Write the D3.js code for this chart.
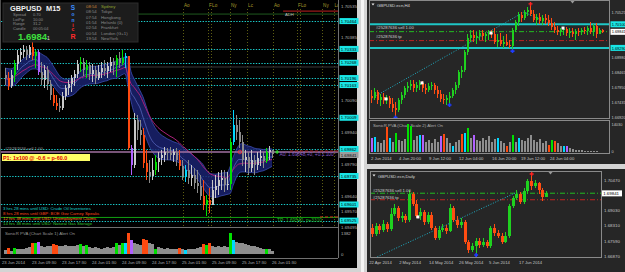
<!DOCTYPE html>
<html><head><meta charset="utf-8">
<script src="https://cdn.jsdelivr.net/npm/d3@7"></script>
<style>
html,body{margin:0;padding:0;background:#d6d6d6;overflow:hidden;}
svg{display:block;}
text{font-family:"Liberation Sans",Arial,sans-serif;}
</style></head><body>
<svg id="c" width="625" height="272"></svg>
<script>
// ---------------- DATA: GBPUSD M15 (left window) ----------------
const m15Open0 = 1.70210;
const m15High = [1.70243,1.70224,1.70233,1.70280,1.70328,1.70337,1.70351,1.70346,1.70351,1.70365,
1.70328,1.70328,1.70271,1.70257,1.70252,1.70186,1.70149,1.70116,1.70101,1.70130,
1.70163,1.70186,1.70210,1.70233,1.70280,1.70295,1.70290,1.70280,1.70271,1.70262,
1.70252,1.70257,1.70271,1.70280,1.70271,1.70295,1.70290,1.70304,1.70318,1.70328,
1.70313,1.70299,1.69880,1.70031,1.70021,1.69998,1.69960,1.69857,1.69809,1.69819,
1.69833,1.69847,1.69857,1.69871,1.69866,1.69871,1.69861,1.69866,1.69857,1.69809,
1.69786,1.69809,1.69786,1.69772,1.69762,1.69739,1.69715,1.69645,1.69678,1.69715,
1.69739,1.69753,1.69762,1.69762,1.69753,1.69913,1.70045,1.70021,1.69998,1.69927,
1.69857,1.69847,1.69857,1.69833,1.69847,1.69857,1.69847,1.69866,1.69875,1.69857];
const m15Low = [1.70163,1.70139,1.70149,1.70177,1.70233,1.70271,1.70290,1.70280,1.70290,1.70280,
1.70243,1.70210,1.70163,1.70149,1.70139,1.70092,1.70064,1.70045,1.70035,1.70045,
1.70092,1.70116,1.70130,1.70158,1.70196,1.70224,1.70205,1.70196,1.70186,1.70177,
1.70167,1.70186,1.70196,1.70205,1.70196,1.70224,1.70210,1.70200,1.70243,1.70257,
1.70243,1.69857,1.69739,1.69772,1.69904,1.69880,1.69772,1.69715,1.69701,1.69715,
1.69739,1.69753,1.69786,1.69800,1.69809,1.69809,1.69800,1.69781,1.69762,1.69715,
1.69706,1.69696,1.69687,1.69673,1.69654,1.69621,1.69574,1.69546,1.69560,1.69597,
1.69630,1.69645,1.69668,1.69659,1.69668,1.69668,1.69880,1.69904,1.69866,1.69781,
1.69753,1.69739,1.69753,1.69739,1.69762,1.69781,1.69772,1.69795,1.69809,1.69819];
const m15Close = [1.70196,1.70158,1.70210,1.70262,1.70304,1.70318,1.70328,1.70304,1.70342,1.70299,
1.70318,1.70224,1.70186,1.70233,1.70167,1.70116,1.70078,1.70064,1.70054,1.70111,
1.70149,1.70167,1.70196,1.70214,1.70262,1.70271,1.70233,1.70257,1.70214,1.70233,
1.70196,1.70224,1.70243,1.70229,1.70252,1.70271,1.70257,1.70290,1.70266,1.70290,
1.70299,1.69866,1.69786,1.69998,1.69951,1.69927,1.69795,1.69753,1.69734,1.69762,
1.69800,1.69819,1.69833,1.69847,1.69842,1.69833,1.69847,1.69809,1.69781,1.69734,
1.69762,1.69725,1.69739,1.69701,1.69687,1.69640,1.69597,1.69621,1.69597,1.69668,
1.69687,1.69715,1.69725,1.69692,1.69696,1.69894,1.69974,1.69941,1.69894,1.69809,
1.69824,1.69772,1.69809,1.69786,1.69819,1.69828,1.69805,1.69847,1.69857,1.69838];
const m15Vol = [250,400,200,420,350,300,350,400,450,700,
750,800,500,450,500,550,650,600,550,500,
600,550,500,550,600,650,500,600,450,400,
450,400,350,400,450,400,450,750,600,700,
720,1382,900,700,650,600,1000,950,700,650,
300,450,400,350,400,350,300,350,400,300,
280,350,300,350,400,450,650,600,700,500,
450,500,450,500,450,1382,900,800,750,700,
650,600,550,500,450,400,350,350,300,200];
// PVA colour code per bar: 0 normal, g/r climax bull/bear, c/m rising bull/bear
const m15Pva = ("0r0g00000r"+"gm0000rr00"+"00000g0g00"+"0000000g0g"+"crm000rr00"+
                "g0000000r0"+"c00000rgr0"+"00000gc000"+"0000000g00").split("");
const m15TimeIdx = [0,10,20,30,40,50,60,70,80,90];
const m15TimeLbl = ["23 Jun 2014","23 Jun 09:30","23 Jun 17:30","24 Jun 01:30","24 Jun 09:30",
                    "24 Jun 17:30","25 Jun 01:30","25 Jun 09:30","25 Jun 17:30","26 Jun 01:30"];
const m15PriceTicks = [1.70535,1.70460,1.70385,1.70310,1.70240,1.70165,1.70090,1.70015,1.69940,
                       1.69865,1.69790,1.69715,1.69640,1.69570,1.69495];
const m15Levels = [1.70464,1.70333,1.70268,1.70196,1.70163,1.70009,1.69862,1.69735,1.69601,1.69525];
const sessions = [[59.3,"Ao"],[67.7,"F"],[68.7,"Lo"],[75,"Ny"],[80.7,"Lc"],[89.3,"Ao"],[97.3,"F"],[98.3,"Lo"],[105.7,"Ny"],[109.5,"Lo"]];
const sellPrice = 1.69848, tpPrice = 1.69540, bidPrice = 1.69841;
const m15VolMax = 1382;
const newsRows = [["3 hrs 28 mins until USD: Crude Oil Inventories","#19d3d3"],
                  ["8 hrs 28 mins until GBP: BOE Gov Carney Speaks","#ff4a1a"],
                  ["12 hrs 38 mins until USD: Unemployment Claims","#ff7a1a"],
                  ["14 hrs 38 mins until USD: Natural Gas Storage","#33c433"]];
const sessTimes = ["08:54","08:54","07:54","01:54","02:54","00:54","19:54"];
const sessNames = ["Sydney","Tokyo","Hongkong","Helsinki (0)","Frankfurt","London (G+1)","NewYork"];
const infoRows = [["Spread","0.70"],["LotPip","10.00"],["Range","31.2"],["Candle","00:05:04"]];

// ---------------- DATA: GBPUSD.ecn H4 ----------------
const h4Open0 = 1.6764;
const h4High = [1.6785,1.6791,1.6785,1.6771,1.6774,1.6767,1.6764,1.6757,1.6743,1.6757,
1.6778,1.6798,1.6812,1.6819,1.6819,1.6812,1.6819,1.6815,1.6805,1.6809,
1.6812,1.6809,1.6798,1.6785,1.6771,1.6767,1.6778,1.6791,1.6812,1.6853,
1.6867,1.6922,1.6977,1.6990,1.6990,1.6984,1.6990,1.6990,1.6984,1.6990,
1.6990,1.6997,1.6977,1.6980,1.6970,1.6977,1.6956,1.6997,1.7025,1.7052,
1.7052,1.7059,1.7069,1.7076,1.7059,1.7045,1.7049,1.7042,1.7045,1.7042,
1.7032,1.7018,1.7004,1.6997,1.7001,1.7001,1.6997,1.6997,1.6994,1.6997,
1.6997,1.7001,1.7004,1.7018,1.7011,1.7014,1.6997,1.6994];
const h4Low = [1.6740,1.6750,1.6737,1.6730,1.6737,1.6737,1.6723,1.6709,1.6695,1.6709,
1.6737,1.6757,1.6778,1.6785,1.6778,1.6778,1.6785,1.6778,1.6771,1.6778,
1.6785,1.6771,1.6757,1.6743,1.6737,1.6733,1.6737,1.6757,1.6771,1.6791,
1.6826,1.6846,1.6905,1.6949,1.6949,1.6942,1.6956,1.6956,1.6949,1.6956,
1.6963,1.6942,1.6932,1.6936,1.6929,1.6936,1.6929,1.6922,1.6984,1.7004,
1.7018,1.7025,1.7038,1.7038,1.7018,1.7008,1.7011,1.7008,1.7011,1.7004,
1.6990,1.6980,1.6973,1.6970,1.6973,1.6970,1.6963,1.6966,1.6956,1.6970,
1.6973,1.6977,1.6973,1.6977,1.6970,1.6963,1.6977,1.6980];
const h4Close = [1.6757,1.6778,1.6750,1.6760,1.6750,1.6757,1.6737,1.6723,1.6716,1.6750,
1.6767,1.6791,1.6798,1.6805,1.6791,1.6802,1.6809,1.6791,1.6785,1.6798,
1.6802,1.6785,1.6771,1.6754,1.6750,1.6757,1.6764,1.6785,1.6802,1.6846,
1.6853,1.6915,1.6963,1.6973,1.6963,1.6970,1.6980,1.6970,1.6977,1.6980,
1.6977,1.6949,1.6956,1.6942,1.6949,1.6939,1.6936,1.6990,1.7018,1.7042,
1.7032,1.7052,1.7059,1.7045,1.7025,1.7035,1.7021,1.7032,1.7025,1.7014,
1.7001,1.6990,1.6984,1.6990,1.6994,1.6980,1.6984,1.6977,1.6987,1.6984,
1.6990,1.6987,1.6997,1.6984,1.7004,1.6977,1.6990,1.6984];
const h4Vol = [7000,7200,5000,4500,6000,12000,7000,5000,9000,6000,
5500,6500,13500,12500,6000,7500,8000,8000,5000,6000,
4500,6500,5000,7500,8500,7000,4500,3000,5000,6000,
8500,9000,11500,7000,8000,6000,5500,7000,6000,7500,
5000,6500,7000,5500,4500,3000,5000,8000,5000,7000,
6000,5500,7000,8000,6000,5000,6500,4500,5500,3500,
6000,5500,4500,3000,3000,3000,2000,1500,1200,1000,
800,600,500,400,300,300,200,100];
const h4Pva = ("mc000rc0g0"+"00gg00cm00"+"000mr00c00"+"rcg0m00000"+"00c00r0g0c"+
               "000000000r"+"gr00cm0000"+"00000000").split("");
const h4VolMax = 14030;
const h4PriceTicks = [1.66920,1.67435,1.67950,1.68465,1.68980,1.69495,1.70010,1.70525];
const h4Cyan = [1.70100,1.69290];
const h4TimeIdx = [0.3,9.7,19.7,29.7,40.7,50.3,60];
const h4TimeLbl = ["2 Jun 2014","4 Jun 20:00","9 Jun 12:00","12 Jun 04:00","16 Jun 20:00","19 Jun 12:00","24 Jun 04:00"];
const h4Trend = [[0.33,1.6757],[51,1.7052],[61.7,1.7001]];
const h4White = [[5,1.6754],[17,1.6809],[40,1.6980],[64,1.6997]];
const h4Blue = [[8,1.6690],[26,1.6733],[47,1.6918]];
const h4Red = [[53,1.7080]];

// ---------------- DATA: GBPUSD.ecn Daily ----------------
const dOpen0 = 1.6821;
const dHigh = [1.6840,1.6844,1.6840,1.6859,1.6849,1.6915,1.6934,1.6925,1.6896,1.6887,
1.7000,1.6990,1.6953,1.6915,1.6906,1.6896,1.6896,1.6830,1.6830,1.6840,
1.6835,1.6934,1.6925,1.6877,1.6868,1.6859,1.6764,1.6750,1.6774,1.6774,
1.6774,1.6764,1.6830,1.6840,1.6812,1.6797,1.6802,1.6934,1.6972,1.7000,
1.6990,1.7009,1.7052,1.7066,1.7047,1.7038,1.7009,1.6995];
const dLow = [1.6779,1.6783,1.6793,1.6802,1.6802,1.6807,1.6877,1.6854,1.6849,1.6844,
1.6849,1.6925,1.6868,1.6859,1.6835,1.6840,1.6812,1.6764,1.6764,1.6802,
1.6793,1.6802,1.6849,1.6821,1.6821,1.6746,1.6703,1.6708,1.6703,1.6727,
1.6731,1.6727,1.6727,1.6783,1.6774,1.6746,1.6750,1.6774,1.6915,1.6953,
1.6934,1.6934,1.6981,1.7000,1.7009,1.6981,1.6948,1.6972];
const dClose = [1.6793,1.6830,1.6812,1.6840,1.6816,1.6887,1.6915,1.6868,1.6877,1.6859,
1.6981,1.6934,1.6877,1.6896,1.6849,1.6882,1.6821,1.6774,1.6812,1.6821,
1.6807,1.6915,1.6859,1.6835,1.6849,1.6755,1.6717,1.6736,1.6760,1.6741,
1.6755,1.6736,1.6821,1.6797,1.6783,1.6755,1.6783,1.6925,1.6962,1.6981,
1.6943,1.6995,1.7042,1.7019,1.7033,1.7000,1.6967,1.6986];
const dPriceTicks = [1.66870,1.67590,1.68310,1.69030,1.69750,1.70470];
const dTimeIdx = [-0.5,7.6,15.7,23.8,31.9,40];
const dTimeLbl = ["22 Apr 2014","2 May 2014","14 May 2014","26 May 2014","5 Jun 2014","17 Jun 2014"];
const dTrend = [[0.8,1.6680],[39.2,1.6990]];
const dWhite = [[12.4,1.6873]];
const dBlue = [[28,1.6694]];
const dRed = [[43,1.7075]];

// ---------------- HELPERS ----------------
const svg = d3.select("#c");
const f5 = d3.format(".5f");
const pvaCol = {g:"#00e000", r:"#ff4a10", c:"#00d8ff", m:"#b060ff"};
function ohlc(open0, hi, lo, cl){
  return cl.map((c,i)=>{const o = i===0?open0:cl[i-1];
    return {i, o, c, h:Math.max(hi[i],o,c), l:Math.min(lo[i],o,c)};});
}
function ema(arr, n){ const a = 2/(n+1); let e = arr[0]; return arr.map(v => (e = e + a*(v-e))); }
function txt(g, x, y, s, o={}){
  const t = g.append("text").attr("x",x).attr("y",y).text(s)
    .attr("font-size", o.size||4.4).attr("fill", o.fill||"#a8a8a8");
  if(o.weight) t.attr("font-weight", o.weight);
  if(o.family) t.attr("font-family", o.family);
  if(o.anchor) t.attr("text-anchor", o.anchor);
  return t;
}
function hline(g, x1, x2, y, col, w, dash){
  const l = g.append("line").attr("x1",x1).attr("x2",x2).attr("y1",y).attr("y2",y)
    .attr("stroke",col).attr("stroke-width",w||1);
  if(dash) l.attr("stroke-dasharray",dash);
  return l;
}
function candles(g, data, x, y, bw, colFn){
  const s = g.append("g").attr("shape-rendering","crispEdges");
  s.selectAll(null).data(data).enter().append("line")
    .attr("x1",d=>x(d.i)+0.5).attr("x2",d=>x(d.i)+0.5)
    .attr("y1",d=>y(d.h)).attr("y2",d=>y(d.l)).attr("stroke",colFn).attr("stroke-width",1);
  s.selectAll(null).data(data).enter().append("rect")
    .attr("x",d=>x(d.i)+0.5-bw/2).attr("width",bw)
    .attr("y",d=>y(Math.max(d.o,d.c)))
    .attr("height",d=>Math.max(1,Math.abs(y(d.o)-y(d.c)))).attr("fill",colFn);
}
function volBars(g, vol, codes, x, y, bw){
  g.append("g").attr("shape-rendering","crispEdges").selectAll(null).data(vol).enter().append("rect")
    .attr("x",(d,i)=>x(i)+0.5-bw/2).attr("width",bw)
    .attr("y",d=>y(d)).attr("height",d=>y(0)-y(d))
    .attr("fill",(d,i)=>codes[i]!=="0"?pvaCol[codes[i]]:"#8e8e8e");
}
function markers(g, x, y, white, blue, red){
  white.forEach(([i,p])=>g.append("rect").attr("x",x(i)-1.5).attr("y",y(p)-1.5).attr("width",3).attr("height",3).attr("fill","#fff"));
  blue.forEach(([i,p])=>{const cx=x(i)+0.5, cy=y(p);
    g.append("path").attr("d",`M${cx-2},${cy}H${cx+2}M${cx},${cy-2}V${cy+2}`).attr("stroke","#1f3cff").attr("stroke-width",1.6);});
  red.forEach(([i,p])=>{const cx=x(i)+0.5, cy=y(p);
    g.append("path").attr("d",`M${cx-2},${cy}H${cx+2}M${cx},${cy-2}V${cy+2}`).attr("stroke","#ff2020").attr("stroke-width",1.4);});
}
function axisBox(g, x, y, w, label, bg, fg, size){
  g.append("rect").attr("x",x).attr("y",y-3).attr("width",w).attr("height",6).attr("fill",bg);
  txt(g, x+1.2, y+1.6, label, {fill:fg, size:size||4.4});
}
// price-axis tick labels, hidden where a level box covers them (as the terminal does)
function priceTicks(g, ticks, y, x, boxes, col, size){
  ticks.filter(p=>boxes.every(b=>Math.abs(y(p)-y(b))>=6))
       .forEach(p=>txt(g, x, y(p)+1.6, f5(p), {fill:col, size:size||4.4}));
}

// ---------------- WINDOW CHROME ----------------
svg.append("rect").attr("width",625).attr("height",272).attr("fill","#d4d4d4");
svg.append("rect").attr("x",0).attr("y",0).attr("width",357).attr("height",268).attr("fill","#000");
svg.append("rect").attr("x",361).attr("y",0).attr("width",3).attr("height",272).attr("fill","#f4f4f4");
svg.append("rect").attr("x",367).attr("y",0).attr("width",258).attr("height",164).attr("fill","#262626");
svg.append("rect").attr("x",367).attr("y",169).attr("width",258).attr("height",103).attr("fill","#262626");

// ---------------- LEFT: M15 ----------------
const L = svg.append("g");
const xL = d3.scaleLinear().domain([0,111]).range([5,338]);
const yL = d3.scaleLinear().domain([1.69495,1.70535]).range([227,6]);
const yLV = d3.scaleLinear().domain([0,m15VolMax]).range([254,233]);
svg.append("clipPath").attr("id","clipL").append("rect").attr("x",1).attr("y",1).attr("width",337).attr("height",226);
const LP = L.append("g").attr("clip-path","url(#clipL)");

sessions.forEach(([i,t])=>{
  LP.append("line").attr("x1",Math.round(xL(i))+0.5).attr("x2",Math.round(xL(i))+0.5).attr("y1",9).attr("y2",227)
    .attr("stroke","#5e5e12").attr("stroke-width",1).attr("stroke-dasharray","1,2");
  txt(LP, xL(i)+1, 7, t, {fill:"#a99b2c", size:4.6});
});
hline(LP, xL(44), 338, yL(1.70497), "#1f5a1f", 1);
hline(LP, xL(40), 338, yL(1.70248), "#3a3a3a", 1);
hline(LP, xL(92.7), 338, yL(1.70511), "#c02020", 1);
txt(LP, xL(93.3), yL(1.70511)+5, "ADH", {fill:"#bdbdbd", size:4.2});
m15Levels.forEach(p=>hline(LP, 1, 338, Math.round(yL(p))+0.5, "#19c8c8", 1, "1.4,1.4"));
hline(LP, 1, 338, yL(tpPrice), "#11a011", 1);
hline(LP, xL(105), 338, yL(tpPrice)-0.5, "#d02a1a", 1, "3,2");

const bars = ohlc(m15Open0, m15High, m15Low, m15Close);
const eH = ema(m15High, 11), eL = ema(m15Low, 11), eC = ema(m15Close, 11), eT = ema(m15Close, 20);
LP.append("path").datum(bars).attr("fill","#1a2270").attr("fill-opacity",0.85)
  .attr("d", d3.area().x(d=>xL(d.i)).y0(d=>yL(eL[d.i])).y1(d=>yL(eH[d.i])).curve(d3.curveMonotoneX));
[eH,eL].forEach(a=>LP.append("path").datum(bars).attr("fill","none").attr("stroke","#3b4cb0").attr("stroke-width",0.8)
  .attr("d", d3.line().x(d=>xL(d.i)).y(d=>yL(a[d.i])).curve(d3.curveMonotoneX)));
LP.append("path").datum(bars).attr("fill","none").attr("stroke","#6a7ad8").attr("stroke-width",0.6)
  .attr("d", d3.line().x(d=>xL(d.i)).y(d=>yL(eC[d.i])).curve(d3.curveMonotoneX));
LP.append("path").datum(bars).attr("fill","none").attr("stroke","#a8207a").attr("stroke-width",1)
  .attr("d", d3.line().x(d=>xL(d.i)).y(d=>yL(eT[d.i])).curve(d3.curveMonotoneX));

hline(LP, 1, 338, yL(sellPrice), "#a070a0", 1.4);
hline(LP, xL(95), 338, yL(sellPrice)-1, "#a02020", 1, "3,2");

candles(LP, bars, xL, yL, 2, d=> m15Pva[d.i]!=="0" ? pvaCol[m15Pva[d.i]] : (d.c>=d.o ? "#c8c8c8" : "#8a8a8a"));

LP.append("circle").attr("cx",xL(78.3)).attr("cy",yL(sellPrice)).attr("r",1.8).attr("fill","none").attr("stroke","#ff3030").attr("stroke-width",0.8);
LP.append("path").attr("d",`M${xL(90.7)-2},${yL(sellPrice)}h4M${xL(90.7)},${yL(sellPrice)-2}v4`).attr("stroke","#22ee22").attr("stroke-width",1);

txt(LP, 5, yL(sellPrice)-1.5, "#25287636 sell 1.00", {fill:"#9a9a9a", size:4.2});
LP.append("rect").attr("x",2).attr("y",yL(sellPrice)+2).attr("width",88).attr("height",7).attr("fill","#ffff66");
txt(LP, 3, yL(sellPrice)+7.6, "P1: 1x100 @ -0.6 = p-60.0", {fill:"#e00000", size:5.4, family:"Liberation Mono, monospace", weight:"bold"});
txt(LP, xL(91.5), yL(sellPrice)+4.5, "A0: 1.69848,+0, +0.1:100 :", {fill:"#8a5ccc", size:4.8, family:"Liberation Mono, monospace"});
txt(LP, xL(90.7), yL(tpPrice)+5, "TP: 1.69540, p+3310", {fill:"#22b022", size:4.8, family:"Liberation Mono, monospace"});
newsRows.forEach(([s,c],k)=>txt(LP, 3, 209.5+k*5.2, s, {fill:c, size:4.3}));

// info panel
const IP = L.append("g");
IP.append("rect").attr("x",3).attr("y",3).attr("width",135).attr("height",39).attr("fill","#1c1c1c").attr("stroke","#2c2c2c");
txt(IP, 10, 10.5, "GBPUSD", {fill:"#f0f0f0", size:7.4, weight:"bold"});
txt(IP, 46, 10.5, "M15", {fill:"#f0f0f0", size:7.4, weight:"bold"});
infoRows.forEach(([a,b],k)=>{txt(IP, 13, 16+k*4.6, a, {fill:"#8c8c8c", size:4});txt(IP, 33, 16+k*4.6, b, {fill:"#8c8c8c", size:4});});
txt(IP, 18, 40, "1.6984", {fill:"#3ee03e", size:9.5, weight:"bold"});
txt(IP, 47, 40, "1", {fill:"#e0e0e0", size:5});
[["S","#3a8cff",10,6.5],["o","#3a8cff",16,5],["n","#3a8cff",21.5,5],["i","#ff2a2a",26.5,5],["c","#ff2a2a",31,5],["R","#ff2a2a",39,7]]
  .forEach(([s,c,y,sz])=>txt(IP, 73, y, s, {fill:c, size:sz, weight:"bold", anchor:"middle"}));
sessTimes.forEach((t,k)=>{
  txt(IP, 86, 8+k*5.3, t, {fill:k===0?"#c8843a":"#8a8a8a", size:4.3});
  txt(IP, 101, 8+k*5.3, sessNames[k], {fill:k===0?"#93a431":"#8a8a8a", size:4.3});
});

// frames / axis
L.append("line").attr("x1",338.5).attr("x2",338.5).attr("y1",0).attr("y2",258).attr("stroke","#707070");
hline(L, 0, 338, 227.5, "#707070", 1);
hline(L, 0, 338, 258.5, "#707070", 1);
L.append("line").attr("x1",0.5).attr("x2",0.5).attr("y1",0).attr("y2",258).attr("stroke","#505050");
priceTicks(L, m15PriceTicks, yL, 341, m15Levels.concat([bidPrice]), "#b4b4b4");
m15Levels.forEach(p=>axisBox(L, 339.5, yL(p), 19, f5(p), "#19e6e6", "#000"));
axisBox(L, 339.5, yL(bidPrice)+1.5, 19, f5(bidPrice), "#9c9c9c", "#111");
txt(L, 341, 235, String(m15VolMax), {fill:"#b4b4b4"});
txt(L, 341, 256, "0", {fill:"#b4b4b4"});
txt(L, 5, 235, "SonicR PVA  (Chart Scale 1)    Alert On", {fill:"#9a9a9a", size:4.3});
volBars(L, m15Vol, m15Pva, xL, yLV, 2.2);
m15TimeIdx.forEach((i,k)=>txt(L, xL(i)-3, 264, m15TimeLbl[k], {fill:"#b0b0b0", size:4.2}));

// ---------------- RIGHT TOP: H4 ----------------
const R = svg.append("g");
const xH = d3.scaleLinear().domain([0,79.33]).range([371,609]);
const yH = d3.scaleLinear().domain([1.66851,1.70899]).range([119,1]);
const yHV = d3.scaleLinear().domain([0,h4VolMax]).range([152,123]);
svg.append("clipPath").attr("id","clipH").append("rect").attr("x",369).attr("y",1).attr("width",240).attr("height",117);
const RP = R.append("g").attr("clip-path","url(#clipH)");
h4Cyan.forEach(p=>hline(RP, 369, 609, yH(p), "#1fc6c6", 2));
hline(RP, 369, 609, yH(sellPrice), "#22bb22", 1, "5,2,1,2");
hline(RP, 369, 609, yH(tpPrice), "#c02222", 1, "5,2,1,2");
RP.append("path").datum(h4Trend).attr("fill","none").attr("stroke","#1fb0c6").attr("stroke-width",1)
  .attr("stroke-dasharray","1,1.6").attr("d", d3.line().x(d=>xH(d[0])).y(d=>yH(d[1])));
const h4 = ohlc(h4Open0, h4High, h4Low, h4Close);
candles(RP, h4, xH, yH, 2, d=> d.c>=d.o ? "#1fd11f" : "#ff4d12");
markers(RP, xH, yH, h4White, h4Blue, h4Red);
txt(RP, 376, yH(sellPrice)-3, "#25287636 sell 1.00", {fill:"#cfcfcf", size:4.2});
txt(RP, 376, yH(tpPrice)-2.5, "#25287636 tp", {fill:"#cfcfcf", size:4.2});
RP.append("path").attr("d","M371.5,3.5h3l-1.5,2z").attr("fill","#eee");
txt(RP, 377, 6.8, "GBPUSD.ecn,H4", {fill:"#d8d8d8", size:4.3});
RP.append("path").attr("d","M570.5,1h4l-2,2.5z").attr("fill","#9a9a9a");
R.append("rect").attr("x",369.5).attr("y",0.5).attr("width",240).attr("height",118).attr("fill","none").attr("stroke","#8a8a8a");
R.append("rect").attr("x",369.5).attr("y",120.5).attr("width",240).attr("height",33).attr("fill","none").attr("stroke","#8a8a8a");
priceTicks(R, h4PriceTicks, yH, 611.5, h4Cyan.concat([bidPrice]), "#c4c4c4", 3.9);
h4Cyan.forEach(p=>axisBox(R, 610.5, yH(p), 15, f5(p), "#19e6e6", "#000", 3.9));
axisBox(R, 610.5, yH(bidPrice), 15, f5(bidPrice), "#ffffff", "#000", 3.9);
txt(R, 373, 126.5, "SonicR PVA  (Chart Scale 2)    Alert On", {fill:"#b0b0b0", size:4.3});
txt(R, 611.5, 125.5, String(h4VolMax), {fill:"#c4c4c4", size:3.9});
txt(R, 611.5, 153, "0", {fill:"#c4c4c4", size:3.9});
volBars(R, h4Vol, h4Pva, xH, yHV, 2);
h4TimeIdx.forEach((i,k)=>txt(R, xH(i)-1, 160, h4TimeLbl[k], {fill:"#c4c4c4", size:4.2}));

// ---------------- RIGHT BOTTOM: Daily ----------------
const D = svg.append("g");
const xD = d3.scaleLinear().domain([0,62.4]).range([372,603]);
const yD = d3.scaleLinear().domain([1.66796,1.70894]).range([258,171]);
svg.append("clipPath").attr("id","clipD").append("rect").attr("x",370).attr("y",171).attr("width",231).attr("height",86);
const DP = D.append("g").attr("clip-path","url(#clipD)");
hline(DP, 370, 601, yD(sellPrice), "#22bb22", 1, "5,2,1,2");
hline(DP, 370, 601, yD(tpPrice), "#c02222", 1, "5,2,1,2");
DP.append("path").datum(dTrend).attr("fill","none").attr("stroke","#1fb0c6").attr("stroke-width",1)
  .attr("stroke-dasharray","1,1.6").attr("d", d3.line().x(d=>xD(d[0])).y(d=>yD(d[1])));
const dd = ohlc(dOpen0, dHigh, dLow, dClose);
candles(DP, dd, xD, yD, 3, d=> d.c>=d.o ? "#1fd11f" : "#ff4d12");
markers(DP, xD, yD, dWhite, dBlue, dRed);
txt(DP, 373, yD(sellPrice)-1.5, "#25287636 sell 1.00", {fill:"#cfcfcf", size:4.2});
txt(DP, 373, yD(tpPrice)-1, "#25287636 tp", {fill:"#cfcfcf", size:4.2});
DP.append("path").attr("d","M372.5,174.5h3l-1.5,2z").attr("fill","#eee");
txt(DP, 378, 177.8, "GBPUSD.ecn,Daily", {fill:"#d8d8d8", size:4.3});
DP.append("path").attr("d","M548.5,172h4l-2,2.5z").attr("fill","#9a9a9a");
D.append("rect").attr("x",370.5).attr("y",171.5).attr("width",231).attr("height",86).attr("fill","none").attr("stroke","#8a8a8a");
priceTicks(D, dPriceTicks, yD, 604, [bidPrice], "#c4c4c4");
axisBox(D, 602, yD(bidPrice), 20, f5(bidPrice), "#ffffff", "#000");
dTimeIdx.forEach((i,k)=>txt(D, xD(i)-1, 264, dTimeLbl[k], {fill:"#c4c4c4", size:4.2}));
</script></body></html>
